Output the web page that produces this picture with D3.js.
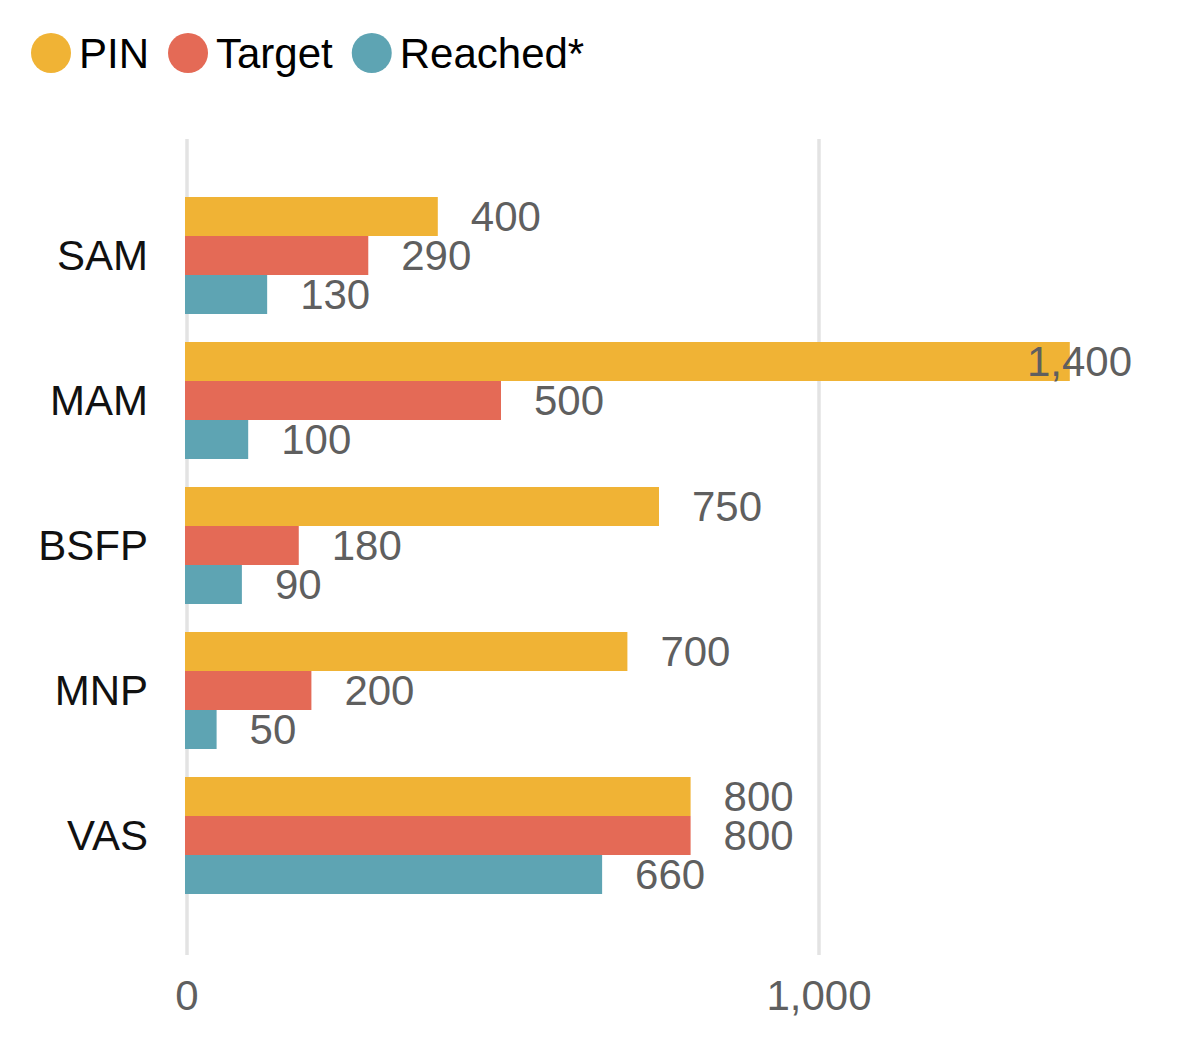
<!DOCTYPE html>
<html>
<head>
<meta charset="utf-8">
<script src="https://cdn.jsdelivr.net/npm/d3@7"></script>
<style>
  html, body { margin: 0; padding: 0; background: #fff; }
  svg { display: block; font-family: "Liberation Sans", Arial, sans-serif; }
</style>
</head>
<body>
<svg id="chart" width="1177" height="1037"></svg>
<script>
(function () {
  'use strict';

  var categories = ['SAM', 'MAM', 'BSFP', 'MNP', 'VAS'];
  var seriesNames = ['PIN', 'Target', 'Reached*'];
  var pinValues = [400, 1400, 750, 700, 800];
  var targetValues = [290, 500, 180, 200, 800];
  var reachedValues = [130, 100, 90, 50, 660];
  var tickValues = [0, 1000];

  var colors = ['#F0B335', '#E46A56', '#5EA4B3'];
  var series = [pinValues, targetValues, reachedValues];

  var svg = d3.select('#chart');
  var fmt = d3.format(',');
  var fontSize = '42px';

  // scales
  var x = d3.scaleLinear().domain([0, 1000]).range([185, 817]);
  var pad = 28 / 145;
  var y = d3.scaleBand().domain(categories).range([169, 922]).padding(pad);
  var ySub = d3.scaleBand().domain(d3.range(series.length)).range([0, y.bandwidth()]);
  var rightLimit = 1132;

  // gridlines
  svg.append('g').selectAll('line').data(tickValues).enter().append('line')
    .attr('x1', function (d) { return x(d) + 2; })
    .attr('x2', function (d) { return x(d) + 2; })
    .attr('y1', 139).attr('y2', 955)
    .attr('stroke', '#e3e3e3').attr('stroke-width', 3.5);

  // tick labels
  svg.append('g').selectAll('text').data(tickValues).enter().append('text')
    .attr('x', function (d) { return x(d) + 2; })
    .attr('y', 1010)
    .attr('text-anchor', 'middle')
    .style('font-size', fontSize).style('fill', '#5f5f5f')
    .text(function (d) { return fmt(d); });

  // category labels
  svg.append('g').selectAll('text').data(categories).enter().append('text')
    .attr('x', 148)
    .attr('y', function (d) { return y(d) + y.bandwidth() / 2; })
    .attr('dy', '0.35em')
    .attr('text-anchor', 'end')
    .style('font-size', fontSize).style('fill', '#111')
    .text(function (d) { return d; });

  // bars + value labels
  series.forEach(function (vals, si) {
    var g = svg.append('g');
    g.selectAll('rect').data(vals).enter().append('rect')
      .attr('x', x(0))
      .attr('y', function (d, i) { return y(categories[i]) + ySub(si); })
      .attr('width', function (d) { return x(d) - x(0); })
      .attr('height', ySub.bandwidth())
      .attr('fill', colors[si]);

    g.selectAll('text').data(vals).enter().append('text')
      .attr('y', function (d, i) { return y(categories[i]) + ySub(si) + ySub.bandwidth() / 2; })
      .attr('dy', '0.35em')
      .style('font-size', fontSize).style('fill', '#5f5f5f')
      .text(function (d) { return fmt(d); })
      .each(function (d) {
        var t = d3.select(this);
        var w = this.getComputedTextLength();
        var px = x(d) + 33;
        if (px + w > rightLimit) px = rightLimit - w;
        t.attr('x', px);
      });
  });

  // legend
  var lx = 51;
  var legend = svg.append('g');
  seriesNames.forEach(function (name, i) {
    legend.append('circle')
      .attr('cx', lx).attr('cy', 53).attr('r', 20)
      .attr('fill', colors[i]);
    var t = legend.append('text')
      .attr('x', lx + 28).attr('y', 53).attr('dy', '0.35em')
      .style('font-size', fontSize).style('fill', '#000')
      .text(name);
    lx += 28 + t.node().getComputedTextLength() + 19 + 20;
  });
})();
</script>
</body>
</html>
